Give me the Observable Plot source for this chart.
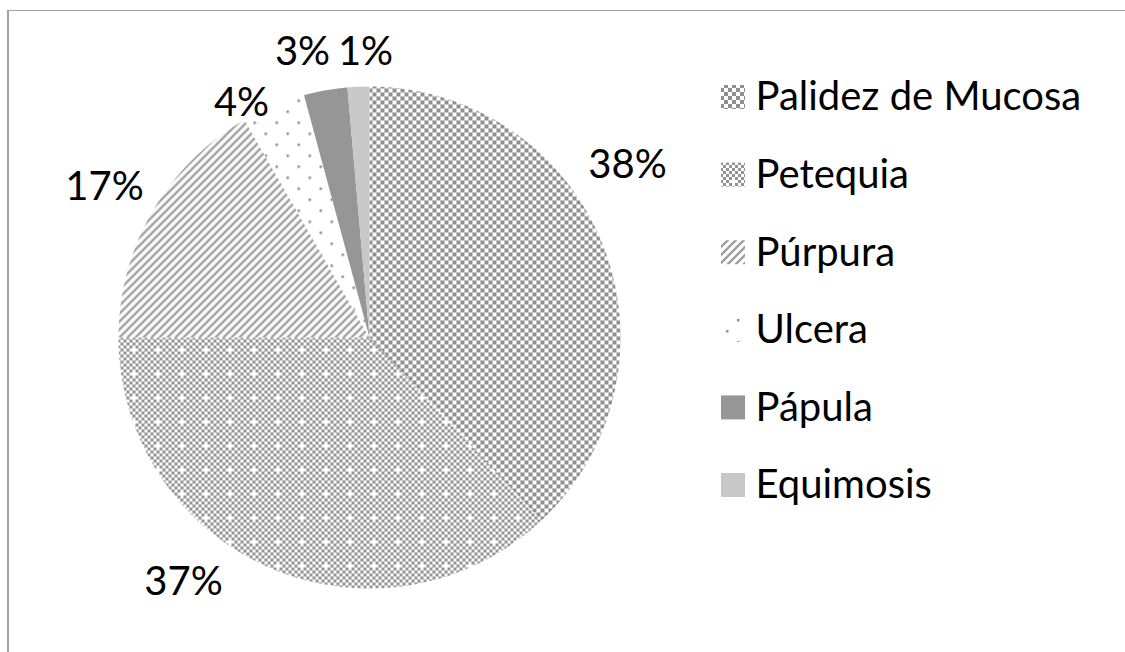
<!DOCTYPE html>
<html><head><meta charset="utf-8">
<script src="https://cdn.jsdelivr.net/npm/d3@7"></script>
<script src="https://cdn.jsdelivr.net/npm/@observablehq/plot@0.6"></script>
<style>
html,body{margin:0;padding:0;background:#fff;overflow:hidden;width:1125px;height:652px}
#wrap{position:relative;width:1125px;height:652px;overflow:hidden}
#frame{position:absolute;left:7px;top:10px;width:1200px;height:700px;border-left:2px solid #a3a3a3;border-top:1.5px solid #a3a3a3;pointer-events:none}
svg{display:block}
</style>
</head><body><div id="wrap"><div id="chart"></div><div id="frame"></div></div>
<script>
// ---- data ----
const categories = ["Palidez de Mucosa", "Petequia", "Púrpura", "Ulcera", "Pápula", "Equimosis"];
const values = [38, 37, 16.7, 4.1, 2.8, 1.4];
const percentLabels = ["38%", "37%", "17%", "4%", "3%", "1%"];

// ---- styles / layout ----
const fills = ["url(#pChecker)", "url(#pSmallChecker)", "url(#pDiag)", "url(#pDots)", "#969696", "#c8c8c8"];
const labelXY = [[627,165],[183,582],[104,187],[241,103],[302,52],[365,52]];
const W = 1125, H = 652, cx = 369, cy = 337, R = 251;
const legX = 721, legY0 = 97, legStep = 77.6, sw = 24;
const font = "Lato, 'Noto Sans', sans-serif";

const arcs = d3.pie().sort(null).value(d => d)(values);
const slices = arcs.map((p, i) => {
  const pts = [{x: cx, y: cy}];
  const n = Math.max(6, Math.ceil((p.endAngle - p.startAngle) * 150));
  for (let j = 0; j <= n; j++) {
    const a = p.startAngle + (p.endAngle - p.startAngle) * j / n;
    pts.push({x: cx + R * Math.sin(a), y: cy - R * Math.cos(a)});
  }
  pts.push({x: cx, y: cy});
  return pts;
});
const legend = categories.map((c, i) => ({c, i, y: legY0 + i * legStep}));
const labels = percentLabels.map((t, i) => ({t, x: labelXY[i][0], y: labelXY[i][1]}));

const svg = Plot.plot({
  width: W, height: H, margin: 0,
  x: {domain: [0, W], range: [0, W], axis: null},
  y: {domain: [0, H], range: [0, H], axis: null},
  style: {background: "#fff", fontFamily: font},
  marks: [
    ...slices.map((pts, i) => Plot.line(pts, {x: "x", y: "y", fill: fills[i], stroke: "none", curve: "linear"})),
    ...legend.map(d => Plot.rect([d], {x1: legX, x2: legX + sw, y1: d.y - sw / 2, y2: d.y + sw / 2, fill: fills[d.i]})),
    Plot.text(legend, {x: legX + sw + 10, y: "y", text: "c", textAnchor: "start", fontSize: 40, fill: "#000"}),
    Plot.text(labels, {x: "x", y: "y", text: "t", fontSize: 40, fill: "#000"})
  ]
});

const defs = document.createElementNS("http://www.w3.org/2000/svg", "defs");
defs.innerHTML = `
<pattern id="pChecker" patternUnits="userSpaceOnUse" width="8" height="8">
  <rect width="8" height="8" fill="#fff"/>
  <rect width="4" height="4" fill="#8f8f8f"/><rect x="4" y="4" width="4" height="4" fill="#8f8f8f"/>
</pattern>
<pattern id="pSmallChecker" patternUnits="userSpaceOnUse" width="24" height="24">
  <rect width="24" height="24" fill="#fff"/>
  ${d3.range(8).flatMap(r => d3.range(8).filter(c => (r + c) % 2 === 0 && !(r === 4 && c === 4)).map(c => `<rect x="${c*3}" y="${r*3}" width="3" height="3" fill="#939393"/>`)).join("")}
</pattern>
<pattern id="pDiag" patternUnits="userSpaceOnUse" width="8" height="8">
  <rect width="8" height="8" fill="#fff"/>
  <path d="M-2,2 L2,-2 M0,8 L8,0 M6,10 L10,6" stroke="#9e9e9e" stroke-width="2.3"/>
</pattern>
<pattern id="pDots" patternUnits="userSpaceOnUse" width="22" height="22">
  <rect width="22" height="22" fill="#fff"/>
  <rect x="0" y="0" width="2.5" height="2.5" fill="#8f8f8f"/><rect x="11" y="11" width="2.5" height="2.5" fill="#8f8f8f"/>
</pattern>`;
svg.insertBefore(defs, svg.firstChild);
document.getElementById("chart").appendChild(svg);
</script></body></html>
